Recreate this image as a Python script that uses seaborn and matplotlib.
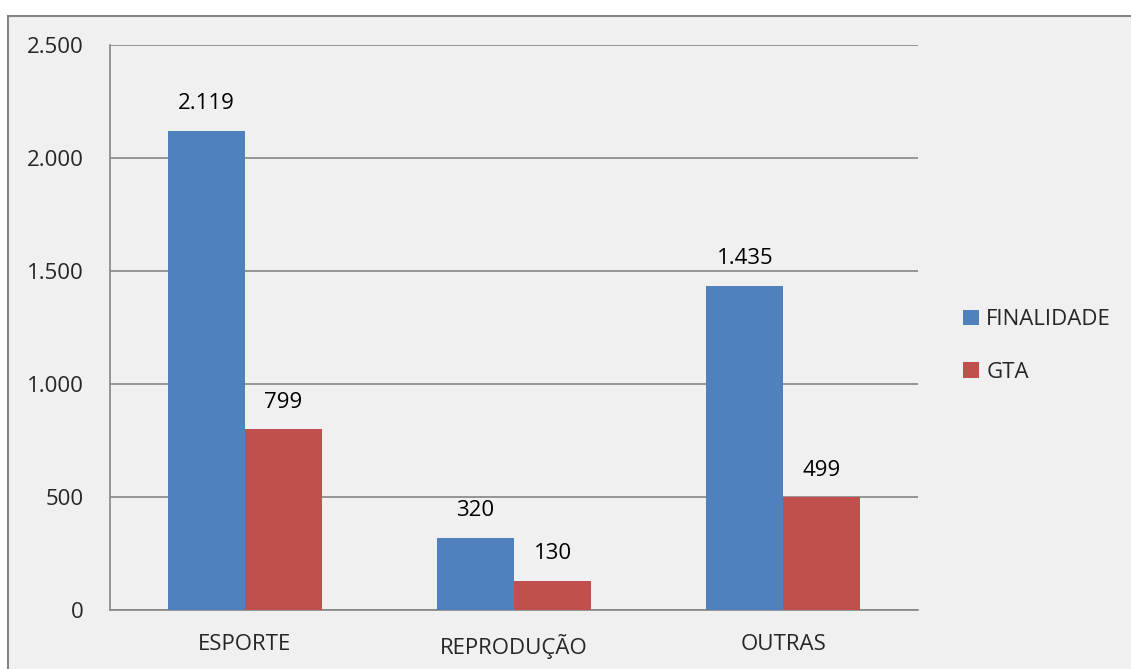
import matplotlib.pyplot as plt
from matplotlib.patches import Rectangle
from matplotlib.ticker import FuncFormatter, FixedLocator
import seaborn as sns
import pandas as pd

categorias = ["ESPORTE", "REPRODUÇÃO", "OUTRAS"]
finalidade = [2119, 320, 1435]
gta = [799, 130, 499]
series = ["FINALIDADE", "GTA"]
cores = ["#4F81BD", "#C0504D"]

df = pd.DataFrame({
    "categoria": categorias * 2,
    "valor": finalidade + gta,
    "serie": [series[0]] * 3 + [series[1]] * 3,
})

def milhar(v):
    return f"{int(v):,}".replace(",", ".")

sns.set_style("white")
plt.rcParams["font.family"] = ["Open Sans", "DejaVu Sans"]

fundo = "#F0F0F0"
cinza = "#868686"
fs = 16

fig = plt.figure(figsize=(11.31, 6.69), dpi=100)
fig.patch.set_facecolor("white")
fig.patches.append(Rectangle((8 / 1131, -0.05), 1.2, 1 - 16 / 669 + 0.05,
                             transform=fig.transFigure, facecolor=fundo,
                             edgecolor=cinza, linewidth=1.5, zorder=-10))

ax = fig.add_axes([110 / 1131, 1 - 610 / 669, 808 / 1131, 565 / 669])
ax.set_facecolor(fundo)

sns.barplot(data=df, x="categoria", y="valor", hue="serie", palette=cores,
            width=0.572, gap=0, saturation=1, linewidth=0, ax=ax, legend=True, zorder=3)

for cont in ax.containers:
    ax.bar_label(cont, labels=[milhar(b.get_height()) for b in cont],
                 padding=12, fontsize=fs, color="black")

ax.set_ylim(0, 2500)
ax.set_xlim(-0.5, 2.5)
ax.set_yticks([0, 500, 1000, 1500, 2000, 2500])
ax.yaxis.set_major_formatter(FuncFormatter(lambda v, p: milhar(v)))
ax.grid(axis="y", color=cinza, linewidth=1.2, zorder=0)
ax.set_axisbelow(True)
ax.set_xlabel("")
ax.set_ylabel("")

for s in ["top", "right"]:
    ax.spines[s].set_visible(False)
for s in ["left", "bottom"]:
    ax.spines[s].set_color(cinza)
    ax.spines[s].set_linewidth(1.2)

ax.tick_params(axis="y", length=6, width=1.2, color=cinza, labelsize=fs, pad=13)
ax.tick_params(axis="x", which="major", length=0, labelsize=fs, pad=17)
ax.xaxis.set_minor_locator(FixedLocator([-0.5, 0.5, 1.5, 2.5]))
ax.tick_params(axis="x", which="minor", length=6, width=1.2, color=cinza, direction="out")

handles, labels = ax.get_legend_handles_labels()
ax.legend(handles, labels, loc="center left", bbox_to_anchor=(943 / 1131, 1 - 346 / 669),
          bbox_transform=fig.transFigure, frameon=False, fontsize=fs,
          handlelength=0.7, handleheight=0.7, handletextpad=0.35, labelspacing=1.4)

fig.savefig("out.png", dpi=100, facecolor=fig.get_facecolor())
